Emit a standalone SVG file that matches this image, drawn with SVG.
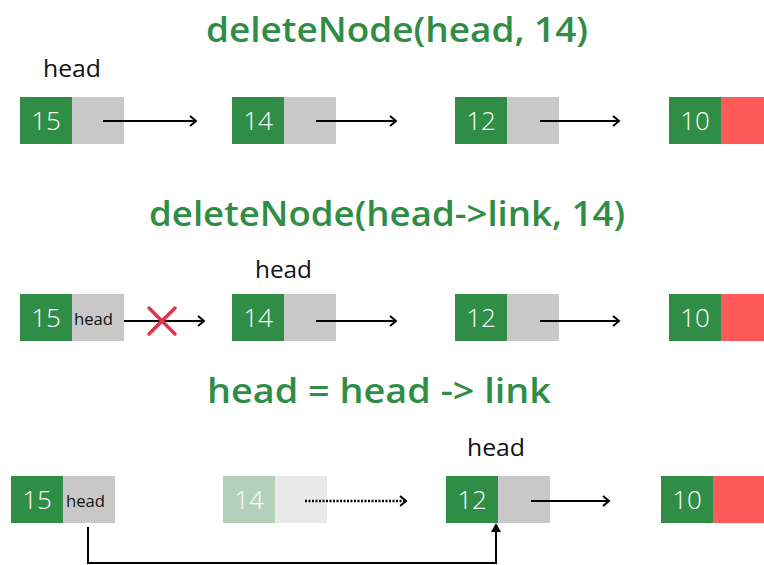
<svg xmlns="http://www.w3.org/2000/svg" width="764" height="565" viewBox="0 0 764 565">
<style>
.title{font-family:"Open Sans","Noto Sans",sans-serif;font-weight:600;font-size:35px;fill:#2f8d46}
.lbl{font-family:"Open Sans","Noto Sans",sans-serif;font-size:23px;fill:#111}
.small{font-family:"Open Sans","Noto Sans",sans-serif;font-size:16px;fill:#111}
.num{font-family:"Open Sans","Noto Sans",sans-serif;font-weight:300;font-size:26px;fill:#fff;text-anchor:middle}
.g{fill:#2f8d46}
.gr{fill:#c8c8c8}
.rd{fill:#ff5a5a}
.fg{fill:#b3d1ba}
.fgr{fill:#e9e9e9}
.ln{stroke:#000;stroke-width:2;fill:none}
</style>
<defs>
<marker id="ah" markerUnits="userSpaceOnUse" markerWidth="12" markerHeight="14" refX="9" refY="7" orient="auto">
<path d="M3,2 L9,7 L3,12" fill="none" stroke="#000" stroke-width="2"/>
</marker>
</defs>
<rect width="764" height="565" fill="#fff"/>

<text class="title" x="206" y="42" textLength="382" lengthAdjust="spacingAndGlyphs">deleteNode(head, 14)</text>
<text class="title" x="149" y="226" textLength="476" lengthAdjust="spacingAndGlyphs">deleteNode(head-&gt;link, 14)</text>
<text class="title" x="207" y="403" textLength="344" lengthAdjust="spacingAndGlyphs">head = head -&gt; link</text>

<text class="lbl" x="43" y="77" textLength="58" lengthAdjust="spacingAndGlyphs">head</text>
<text class="lbl" x="255" y="278" textLength="57" lengthAdjust="spacingAndGlyphs">head</text>
<text class="lbl" x="467" y="456" textLength="58" lengthAdjust="spacingAndGlyphs">head</text>

<!-- Row 1 -->
<g id="r1n15"><rect class="g" x="20" y="97" width="52" height="47"/><rect class="gr" x="72" y="97" width="52" height="47"/><text class="num" x="46" y="130">15</text></g>
<g id="r1n14"><rect class="g" x="232" y="97" width="52" height="47"/><rect class="gr" x="284" y="97" width="52" height="47"/><text class="num" x="258" y="130">14</text></g>
<g id="r1n12"><rect class="g" x="455" y="97" width="52" height="47"/><rect class="gr" x="507" y="97" width="52" height="47"/><text class="num" x="481" y="130">12</text></g>
<g id="r1n10"><rect class="g" x="669" y="97" width="52" height="47"/><rect class="rd" x="721" y="97" width="43" height="47"/><text class="num" x="695" y="130">10</text></g>

<!-- Row 2 -->
<g id="r2n15"><rect class="g" x="20" y="294" width="52" height="47"/><rect class="gr" x="72" y="294" width="52" height="47"/><text class="num" x="46" y="327">15</text><text class="small" x="74" y="325" textLength="39" lengthAdjust="spacingAndGlyphs">head</text></g>
<g id="r2n14"><rect class="g" x="232" y="294" width="52" height="47"/><rect class="gr" x="284" y="294" width="52" height="47"/><text class="num" x="258" y="327">14</text></g>
<g id="r2n12"><rect class="g" x="455" y="294" width="52" height="47"/><rect class="gr" x="507" y="294" width="52" height="47"/><text class="num" x="481" y="327">12</text></g>
<g id="r2n10"><rect class="g" x="669" y="294" width="52" height="47"/><rect class="rd" x="721" y="294" width="43" height="47"/><text class="num" x="695" y="327">10</text></g>

<!-- Row 3 -->
<g id="r3n15"><rect class="g" x="11" y="476" width="52" height="47"/><rect class="gr" x="63" y="476" width="52" height="47"/><text class="num" x="37" y="509">15</text><text class="small" x="66" y="507" textLength="39" lengthAdjust="spacingAndGlyphs">head</text></g>
<g id="r3n14"><rect class="fg" x="223" y="476" width="52" height="47"/><rect class="fgr" x="275" y="476" width="52" height="47"/><text class="num" x="249" y="509">14</text></g>
<g id="r3n12"><rect class="g" x="446" y="476" width="52" height="47"/><rect class="gr" x="498" y="476" width="52" height="47"/><text class="num" x="472" y="509">12</text></g>
<g id="r3n10"><rect class="g" x="661" y="476" width="52" height="47"/><rect class="rd" x="713" y="476" width="51" height="47"/><text class="num" x="687" y="509">10</text></g>

<g id="connectors">
<line class="ln" x1="103" y1="121" x2="196" y2="121" marker-end="url(#ah)"/>
<line class="ln" x1="316" y1="121" x2="396" y2="121" marker-end="url(#ah)"/>
<line class="ln" x1="540" y1="121" x2="619" y2="121" marker-end="url(#ah)"/>

<line class="ln" x1="124" y1="321" x2="204" y2="321" marker-end="url(#ah)"/>
<line class="ln" x1="316" y1="321" x2="396" y2="321" marker-end="url(#ah)"/>
<line class="ln" x1="540" y1="321" x2="619" y2="321" marker-end="url(#ah)"/>

<line x1="305" y1="501" x2="406" y2="501" stroke="#000" stroke-width="2.5" stroke-dasharray="2,1.5" marker-end="url(#ah)"/>
<line class="ln" x1="531" y1="501" x2="609" y2="501" marker-end="url(#ah)"/>

<path class="ln" d="M88,527 V563 H496 V526"/>
<path d="M491,532 L496,523 L501,532 Z" fill="#000"/>
</g>
<g id="cross" stroke="#e0344a" stroke-width="3.5" stroke-linecap="round">
<line x1="149" y1="308" x2="175" y2="334"/>
<line x1="175" y1="308" x2="149" y2="334"/>
</g>
</svg>
